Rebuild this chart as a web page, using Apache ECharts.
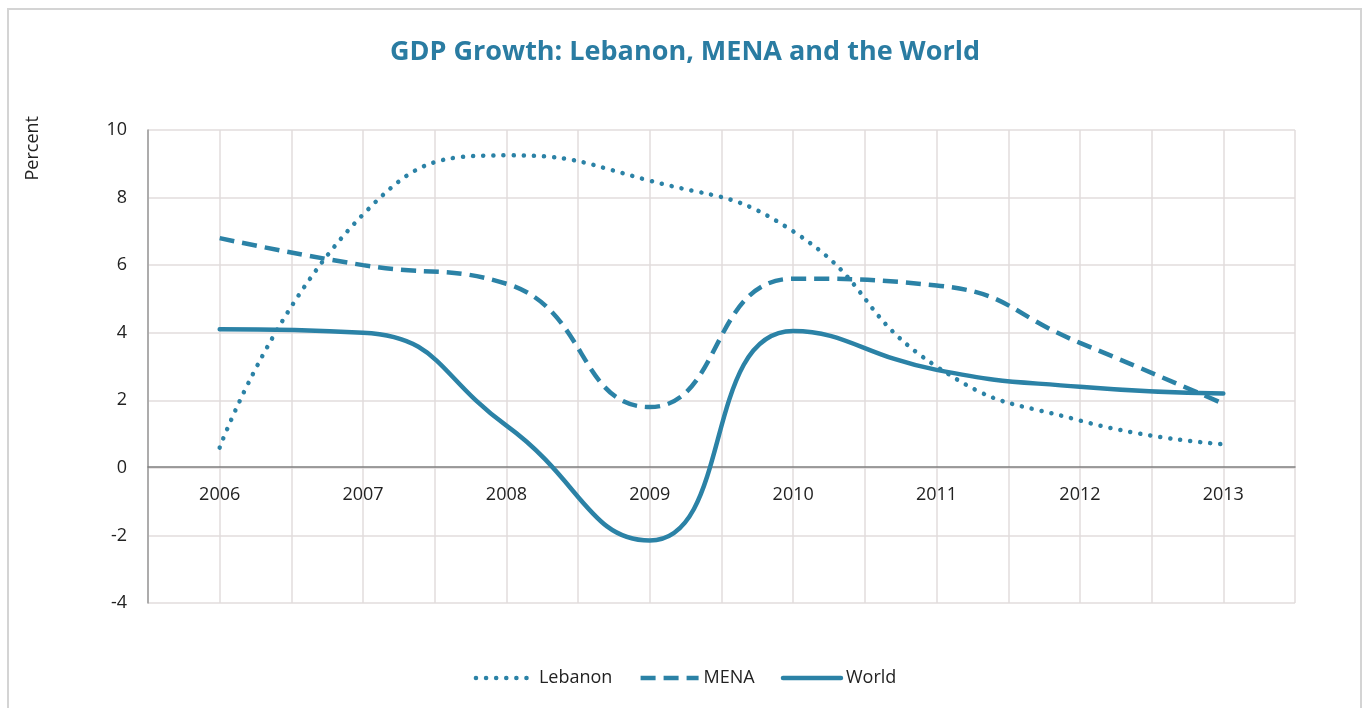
<!DOCTYPE html>
<html>
<head>
<meta charset="utf-8">
<script src="https://cdn.jsdelivr.net/npm/echarts@6/dist/echarts.min.js"></script>
<style>
  html, body { margin: 0; padding: 0; background: #fff; }
  #frame { position: absolute; left: 7px; top: 8px; width: 1355px; height: 720px; border: 2px solid #d4d4d4; box-sizing: border-box; }
  #main { position: absolute; left: 0; top: 0; width: 1370px; height: 708px; }
</style>
</head>
<body>
<div id="frame"></div>
<div id="main"></div>
<script>
const years = ['2006', '2007', '2008', '2009', '2010', '2011', '2012', '2013']
const lebanon = [0.6, 7.5, 9.25, 8.5, 7.0, 3.0, 1.4, 0.7]
const mena = [6.8, 6.0, 5.45, 1.8, 5.6, 5.4, 3.7, 1.9]
const world = [4.1, 4.0, 1.25, -2.15, 4.05, 2.9, 2.4, 2.2]

const blue = '#2b82a6'
const font = '"Open Sans", "Noto Sans", sans-serif'

const chart = echarts.init(document.getElementById('main'))

const lineSeries = (name, data, lineType, cap) => ({
    name: name,
    type: 'line',
    data: data,
    smooth: 0.5,
    symbol: 'none',
    xAxisIndex: 0,
    lineStyle: { color: blue, width: 4.5, type: lineType, cap: cap },
    itemStyle: { color: blue }
})

chart.setOption({
    animation: false,
    title: {
        text: 'GDP Growth: Lebanon, MENA and the World',
        left: 'center',
        top: 34,
        textStyle: { color: '#2a7ca2', fontSize: 27, fontWeight: 'bold', fontFamily: font }
    },
    graphic: [{
        type: 'text',
        left: 24,
        top: 116,
        rotation: Math.PI / 2,
        style: { text: 'Percent', fontSize: 18, fill: '#222', fontFamily: font }
    }],
    grid: { left: 148, right: 75, top: 130, bottom: 105 },
    legend: {
        bottom: 16,
        left: 'center',
        itemWidth: 58,
        itemHeight: 12,
        itemGap: 26,
        itemStyle: { opacity: 0 },
        lineStyle: { width: 4.5 },
        textStyle: { color: '#222', fontSize: 18, fontFamily: font },
        data: ['Lebanon', 'MENA', 'World']
    },
    xAxis: [{
        type: 'category',
        data: years,
        boundaryGap: true,
        offset: -136,
        axisLine: { onZero: false, lineStyle: { color: '#7f7f7f', width: 1.5 } },
        axisTick: { show: false },
        axisLabel: { margin: 19, fontSize: 18, color: '#222', fontFamily: font },
        splitLine: { show: false }
    }, {
        type: 'value',
        min: 0,
        max: 16,
        interval: 1,
        position: 'top',
        axisLine: { show: false },
        axisTick: { show: false },
        axisLabel: { show: false },
        splitLine: { show: true, lineStyle: { color: '#e2dddd', width: 1.5 } }
    }],
    yAxis: {
        type: 'value',
        min: -4,
        max: 10,
        interval: 2,
        axisLine: { show: true, onZero: false, lineStyle: { color: '#9a9a9a', width: 1.5 } },
        axisTick: { show: false },
        axisLabel: { margin: 21, fontSize: 18, color: '#222', fontFamily: font },
        splitLine: { show: true, lineStyle: { color: '#e2dddd', width: 1.5 } }
    },
    series: [
        lineSeries('Lebanon', lebanon, [0.1, 10], 'round'),
        lineSeries('MENA', mena, [15, 8], 'butt'),
        lineSeries('World', world, 'solid', 'round')
    ]
})
</script>
</body>
</html>
